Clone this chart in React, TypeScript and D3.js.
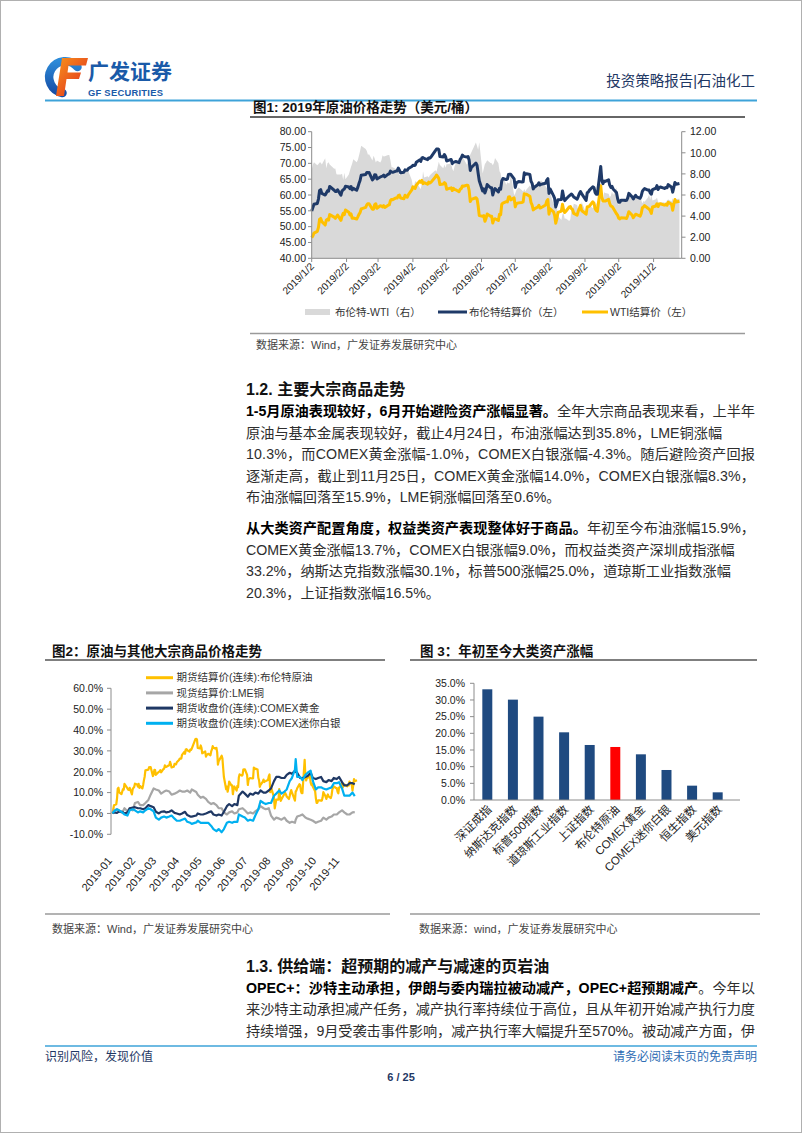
import React from "react";
import * as d3 from "d3";

const W = 802;
const H = 1133;
const FONT = "'Liberation Sans', Arial, 'Noto Sans CJK SC', sans-serif";

// ---------- Figure 1: 2019 crude prices ----------
const f1Dates = [
  "01-02","01-03","01-04","01-07","01-08","01-09","01-10","01-11","01-14","01-15","01-16","01-17","01-18","01-22","01-23","01-24","01-25","01-28","01-29","01-30","01-31",
  "02-01","02-04","02-05","02-06","02-07","02-08","02-11","02-12","02-13","02-14","02-15","02-19","02-20","02-21","02-22","02-25","02-26","02-27","02-28",
  "03-01","03-04","03-05","03-06","03-07","03-08","03-11","03-12","03-13","03-14","03-15","03-18","03-19","03-20","03-21","03-22","03-25","03-26","03-27","03-28","03-29",
  "04-01","04-02","04-03","04-04","04-05","04-08","04-09","04-10","04-11","04-12","04-15","04-16","04-17","04-18","04-22","04-23","04-24","04-25","04-26","04-29","04-30",
  "05-01","05-02","05-03","05-06","05-07","05-08","05-09","05-10","05-13","05-14","05-15","05-16","05-17","05-20","05-21","05-22","05-23","05-24","05-28","05-29","05-30","05-31",
  "06-03","06-04","06-05","06-06","06-07","06-10","06-11","06-12","06-13","06-14","06-17","06-18","06-19","06-20","06-21","06-24","06-25","06-26","06-27","06-28",
  "07-01","07-02","07-03","07-05","07-08","07-09","07-10","07-11","07-12","07-15","07-16","07-17","07-18","07-19","07-22","07-23","07-24","07-25","07-26","07-29","07-30","07-31",
  "08-01","08-02","08-05","08-06","08-07","08-08","08-09","08-12","08-13","08-14","08-15","08-16","08-19","08-20","08-21","08-22","08-23","08-26","08-27","08-28","08-29","08-30",
  "09-03","09-04","09-05","09-06","09-09","09-10","09-11","09-12","09-13","09-16","09-17","09-18","09-19","09-20","09-23","09-24","09-25","09-26","09-27","09-30",
  "10-01","10-02","10-03","10-04","10-07","10-08","10-09","10-10","10-11","10-14","10-15","10-16","10-17","10-18","10-21","10-22","10-23","10-24","10-25","10-28","10-29","10-30","10-31",
  "11-01","11-04","11-05","11-06","11-07","11-08","11-11","11-12","11-13","11-14","11-15","11-18","11-19","11-20","11-21","11-22","11-25"
];
const brentPrice = [
  54.91,55.95,57.06,57.33,58.72,61.44,61.68,60.48,59.99,60.64,61.32,61.18,62.70,61.50,61.14,61.09,61.64,59.93,61.32,61.65,61.89,
  62.75,62.51,61.98,62.69,61.63,62.10,61.51,62.42,63.61,64.57,66.25,66.45,67.08,67.07,67.12,64.76,65.21,66.39,66.31,
  65.07,65.67,65.86,65.99,66.30,65.74,66.58,66.67,67.55,67.23,67.16,67.54,67.61,68.50,67.86,67.03,67.21,67.97,67.83,67.82,68.39,
  69.01,69.37,69.31,69.40,70.34,71.10,70.61,71.73,71.83,71.55,71.18,71.72,71.62,71.97,74.04,74.51,74.57,74.35,72.15,72.04,72.80,
  72.18,70.75,70.85,71.24,69.88,70.37,70.39,70.62,70.23,71.24,71.77,72.62,72.21,71.97,72.18,70.99,67.76,68.69,70.11,69.45,66.87,64.49,
  61.28,61.97,60.63,61.67,63.29,62.29,62.29,59.97,61.31,62.01,60.94,62.14,61.82,64.45,65.20,64.86,65.05,66.49,66.55,66.55,
  65.06,62.40,63.82,64.23,64.11,64.16,67.01,66.52,66.72,66.48,64.35,63.66,61.93,62.47,63.26,63.83,63.18,63.39,63.46,63.71,64.72,65.17,
  60.50,61.89,59.81,58.94,56.23,57.38,58.53,58.57,61.30,59.48,58.23,58.64,59.74,60.03,60.30,59.92,59.34,58.70,59.51,60.49,61.08,60.43,
  58.26,60.70,60.95,61.54,62.59,62.38,60.81,60.22,60.22,69.02,64.55,63.60,64.40,64.28,64.77,63.10,62.39,62.74,61.91,60.78,
  58.89,57.69,57.71,58.37,58.35,58.24,58.32,59.10,60.51,59.35,58.74,59.42,59.91,59.42,58.96,59.70,61.17,61.67,62.02,61.57,61.59,60.61,60.23,
  61.69,62.13,62.96,61.74,62.29,62.51,62.18,62.06,62.37,62.28,63.30,62.44,60.91,62.40,63.97,63.39,63.65
];
const wtiPrice = [
  46.54,47.09,47.96,48.52,49.78,52.36,52.59,51.59,50.51,52.11,52.31,52.07,53.80,53.01,52.62,53.13,53.69,51.99,53.31,54.23,53.79,
  55.26,54.56,53.66,54.01,52.64,52.72,52.41,53.10,53.90,54.41,55.59,56.09,56.92,57.26,57.26,55.48,55.50,56.94,57.22,
  55.80,56.59,56.56,56.22,56.66,56.07,56.79,56.87,58.26,58.61,58.52,59.09,59.03,59.83,59.98,59.04,58.82,59.94,59.41,59.30,60.14,
  61.59,62.58,62.46,62.10,63.08,64.40,64.05,64.61,63.58,63.89,63.40,64.05,63.76,64.00,65.70,66.30,65.89,65.21,63.30,63.50,63.91,
  63.60,61.81,61.94,62.25,61.40,62.12,61.70,61.66,61.04,61.78,62.02,62.87,62.76,63.10,62.99,61.42,57.91,58.63,59.14,58.81,56.59,53.50,
  53.25,53.48,51.68,52.59,53.99,53.26,53.27,51.14,52.28,52.51,51.93,53.90,53.76,57.07,57.43,57.90,57.83,59.38,59.43,58.47,
  59.09,56.25,57.34,57.51,57.66,57.83,60.43,60.20,60.21,59.58,57.62,56.78,55.30,55.63,56.22,56.77,55.88,56.02,56.20,56.87,58.05,58.58,
  53.95,55.66,54.69,53.63,51.09,52.54,54.50,54.93,57.10,55.23,54.47,54.87,56.21,56.34,55.68,55.35,54.17,53.64,54.93,55.78,56.71,55.10,
  53.94,56.26,56.30,56.52,57.85,57.40,55.75,55.09,54.85,62.90,59.34,58.11,58.13,58.09,58.64,57.29,56.49,56.41,55.91,54.07,
  53.62,52.64,52.45,52.81,52.75,52.63,52.59,53.55,54.70,53.59,52.81,53.36,53.93,53.78,53.31,54.16,55.97,56.23,56.66,55.81,55.54,55.06,54.18,
  56.20,56.54,57.23,56.35,57.15,57.24,56.86,56.80,57.12,56.77,57.72,57.05,55.21,57.11,58.58,57.77,58.01
];
const f1LeftTicks = [40, 45, 50, 55, 60, 65, 70, 75, 80];
const f1RightTicks = [0, 2, 4, 6, 8, 10, 12];
const f1DateTicks = ["2019/1/2","2019/2/2","2019/3/2","2019/4/2","2019/5/2","2019/6/2","2019/7/2","2019/8/2","2019/9/2","2019/10/2","2019/11/2"];
const f1Legend = ["布伦特-WTI（右）", "布伦特结算价（左）", "WTI结算价（左）"];

// ---------- Figure 2: % change of commodities ----------
const f2Dates = [
  "01-02","01-04","01-08","01-11","01-15","01-18","01-22","01-25","01-29",
  "02-01","02-05","02-08","02-12","02-15","02-19","02-22","02-26",
  "03-01","03-05","03-08","03-12","03-15","03-19","03-22","03-26","03-29",
  "04-02","04-05","04-09","04-12","04-16","04-18","04-24","04-26","04-30",
  "05-03","05-07","05-10","05-14","05-17","05-21","05-24","05-28","05-31",
  "06-04","06-07","06-11","06-14","06-18","06-20","06-25","06-28",
  "07-02","07-05","07-09","07-12","07-16","07-19","07-23","07-26","07-30",
  "08-02","08-06","08-09","08-13","08-16","08-20","08-23","08-27","08-30",
  "09-03","09-04","09-06","09-10","09-13","09-17","09-20","09-24","09-27",
  "10-01","10-04","10-08","10-11","10-15","10-18","10-22","10-25","10-29",
  "11-01","11-05","11-08","11-12","11-15","11-19","11-22","11-25"
];
const lmeCopper = [
  0.0, 1.5, 2.0, 1.0, 0.3, 2.5, 1.0, 2.5, 1.5,
  5.0, 5.5, 4.0, 4.0, 5.0, 6.5, 9.0, 12.0,
  11.5, 11.0, 9.5, 10.5, 11.0, 10.5, 9.0, 9.5, 10.0,
  11.0, 10.5, 10.5, 11.0, 10.0, 11.5, 10.3, 9.0, 7.5,
  8.0, 7.0, 5.5, 4.5, 5.0, 4.0, 2.5, 2.5, 0.5,
  -0.5, 0.5, 1.0, 0.0, 0.5, 2.0, 2.5, 1.5,
  0.0, 0.5, 0.0, 1.0, 2.0, 3.5, 2.5, 2.0, 2.5,
  -1.0, -3.0, -2.0, -2.5, -3.0, -2.0, -3.5, -4.5, -4.0,
  -4.5, -3.0, -1.5, -1.0, -0.5, -2.0, -2.5, -3.0, -3.5,
  -4.5, -4.0, -3.5, -2.0, -3.0, -2.0, -1.5, -0.5, -0.5,
  0.5, 1.5, 0.5, -0.5, -0.5, 0.5, 0.6
];
const comexGold = [
  0.0, 0.5, 0.3, 1.0, 0.8, 0.0, 0.5, 2.5, 2.8,
  3.0, 2.5, 2.5, 2.0, 2.5, 4.0, 3.5, 3.0,
  0.8, 0.0, 0.8, 1.0, 0.5, 0.8, 1.5, 0.3, 0.0,
  -0.5, 0.0, 0.8, -0.8, -1.5, -1.5, -1.0, 0.0, -0.5,
  -0.5, 0.0, 0.5, 1.0, -0.5, -1.0, -0.5, -1.0, 0.8,
  3.5, 4.5, 3.5, 4.5, 4.0, 8.5, 10.5, 9.5,
  8.0, 9.5, 9.0, 10.0, 9.5, 11.0, 10.0, 10.0, 11.0,
  12.0, 15.5, 17.5, 17.5, 17.0, 17.0, 18.5, 19.5, 19.0,
  20.5, 20.0, 19.5, 17.0, 17.0, 17.5, 18.0, 19.5, 17.0,
  16.5, 17.0, 17.5, 15.5, 15.0, 16.0, 15.5, 17.0, 16.5,
  17.5, 15.0, 13.5, 13.5, 14.5, 14.5, 14.0
];
const comexSilver = [
  0.0, 1.0, 2.0, 1.5, 0.5, -0.5, -1.0, 1.5, 2.0,
  1.5, 0.5, 1.0, 0.5, 1.5, 2.5, 2.0, 1.0,
  -2.0, -3.0, -2.0, -1.5, -2.0, -1.5, -1.0, -2.5, -3.5,
  -3.5, -3.0, -2.5, -4.0, -4.5, -5.0, -4.3, -3.5, -4.5,
  -4.5, -4.5, -4.5, -6.0, -7.5, -8.5, -7.5, -9.0, -7.5,
  -4.5, -4.0, -4.5, -4.0, -4.0, -0.5, -1.5, -2.0,
  -3.5, -3.0, -3.5, -1.0, 2.0, 6.0, 5.0, 4.5, 5.0,
  5.0, 8.5, 9.5, 11.0, 9.5, 10.5, 11.5, 15.5, 17.0,
  21.0, 26.0, 17.5, 17.5, 16.0, 18.5, 19.5, 20.5, 15.5,
  11.5, 12.5, 12.5, 12.0, 11.5, 12.0, 12.5, 14.5, 14.5,
  15.0, 12.0, 8.5, 8.5, 8.5, 10.0, 8.3
];
const f2YTicks = [-10, 0, 10, 20, 30, 40, 50, 60];
const f2MonthTicks = ["2019-01","2019-02","2019-03","2019-04","2019-05","2019-06","2019-07","2019-08","2019-09","2019-10","2019-11"];
const f2Legend = ["期货结算价(连续):布伦特原油", "现货结算价:LME铜", "期货收盘价(连续):COMEX黄金", "期货收盘价(连续):COMEX迷你白银"];
const f2Colors = ["#ffc000", "#a6a6a6", "#1f3864", "#00b0f0"];

// ---------- Figure 3: YTD returns ----------
const f3Assets = ["深证成指","纳斯达克指数","标普500指数","道琼斯工业指数","上证指数","布伦特原油","COMEX黄金","COMEX迷你白银","恒生指数","美元指数"];
const f3Values = [33.2, 30.1, 25.0, 20.3, 16.5, 15.9, 13.7, 9.0, 4.3, 2.3];
const f3YTicks = [0, 5, 10, 15, 20, 25, 30, 35];
const f3Highlight = "布伦特原油";

type Seg = { t: string; b?: boolean };

const para12: Seg[][] = [
  [{ t: "1-5月原油表现较好，6月开始避险资产涨幅显著。", b: true }, { t: "全年大宗商品表现来看，上半年" }],
  [{ t: "原油与基本金属表现较好，截止4月24日，布油涨幅达到35.8%，LME铜涨幅" }],
  [{ t: "10.3%，而COMEX黄金涨幅-1.0%，COMEX白银涨幅-4.3%。随后避险资产回报" }],
  [{ t: "逐渐走高，截止到11月25日，COMEX黄金涨幅14.0%，COMEX白银涨幅8.3%，" }],
  [{ t: "布油涨幅回落至15.9%，LME铜涨幅回落至0.6%。" }],
];
const para12Fit = [true, false, true, true, false];
const para12b: Seg[][] = [
  [{ t: "从大类资产配置角度，权益类资产表现整体好于商品。", b: true }, { t: "年初至今布油涨幅15.9%，" }],
  [{ t: "COMEX黄金涨幅13.7%，COMEX白银涨幅9.0%，而权益类资产深圳成指涨幅" }],
  [{ t: "33.2%，纳斯达克指数涨幅30.1%，标普500涨幅25.0%，道琼斯工业指数涨幅" }],
  [{ t: "20.3%，上证指数涨幅16.5%。" }],
];
const para12bFit = [true, false, false, false];
const para13: Seg[][] = [
  [{ t: "OPEC+：沙特主动承担，伊朗与委内瑞拉被动减产，OPEC+超预期减产", b: true }, { t: "。今年以" }],
  [{ t: "来沙特主动承担减产任务，减产执行率持续位于高位，且从年初开始减产执行力度" }],
  [{ t: "持续增强，9月受袭击事件影响，减产执行率大幅提升至570%。被动减产方面，伊" }],
];

const BODY_X = 246;
const BODY_FIT = 509;
const BODY_SIZE = 14.2;

function TextLine({ y, segs, fit }: { y: number; segs: Seg[]; fit: boolean }) {
  return (
    <text
      x={BODY_X}
      y={y}
      dy="0.36em"
      fontSize={BODY_SIZE}
      fontFamily={FONT}
      {...(fit ? { textLength: BODY_FIT, lengthAdjust: "spacing" } : {})}
    >
      {segs.map((s, i) => (
        <tspan key={i} fontWeight={s.b ? "bold" : "normal"} fill={s.b ? "#000" : "#2e2e2e"}>
          {s.t}
        </tspan>
      ))}
    </text>
  );
}

export default function App() {
  const parse = d3.timeParse("%Y-%m-%d");
  const d1 = f1Dates.map((s) => parse("2019-" + s) as Date);
  const d2 = f2Dates.map((s) => parse("2019-" + s) as Date);

  // Figure 1 scales
  const x1 = d3.scaleTime().domain([new Date(2019, 0, 2), new Date(2019, 10, 27)]).range([311.7, 681.7]);
  const yL = d3.scaleLinear().domain([40, 80]).range([258.3, 131.7]);
  const yR = d3.scaleLinear().domain([0, 12]).range([258.3, 131.7]);
  const spread = brentPrice.map((b, i) => b - wtiPrice[i]);
  const spreadArea = d3.area<number>().x((_, i) => x1(d1[i])).y0(yR(0)).y1((d) => yR(d))(spread) || "";
  const priceLine = d3.line<number>().x((_, i) => x1(d1[i])).y((d) => yL(d));
  const parseTick = d3.timeParse("%Y/%m/%d");

  // Figure 2 scales
  const x2 = d3.scaleTime().domain([d1[0], d1[d1.length - 1]]).range([112.5, 357]);
  const y2 = d3.scaleLinear().domain([-10, 60]).range([834.3, 688.3]);
  const brentPct = brentPrice.map((v) => (v / brentPrice[0] - 1) * 100);
  const brentPctLine = d3.line<number>().x((_, i) => x2(d1[i])).y((d) => y2(d));
  const otherLine = d3.line<number>().x((_, i) => x2(d2[i])).y((d) => y2(d));
  const f2Paths = [brentPctLine(brentPct), otherLine(lmeCopper), otherLine(comexGold), otherLine(comexSilver)];
  const parseMonth = d3.timeParse("%Y-%m");

  // Figure 3 scales
  const x3 = d3.scaleBand<string>().domain(f3Assets).range([474, 731]).paddingInner(0.61).paddingOuter(0.325);
  const y3 = d3.scaleLinear().domain([0, 35]).range([800, 683.3]);

  const axisColor = "#8c8c8c";
  const tickFont = 10.5;

  return (
    <svg
      width={W}
      height={H}
      viewBox={`0 0 ${W} ${H}`}
      style={{ position: "absolute", left: 0, top: 0, background: "#fff" }}
      fontFamily={FONT}
    >
      <rect x={0} y={0} width={W} height={H} fill="#fff" />
      <rect x={0.5} y={0.5} width={W - 1} height={H - 1} fill="none" stroke="#b0b0b0" strokeWidth={1} />

      {/* ===== Header ===== */}
      <g>
        <defs>
          <linearGradient id="gfF" x1="0" y1="0" x2="1" y2="1">
            <stop offset="0" stopColor="#f7941d" />
            <stop offset="1" stopColor="#e0261b" />
          </linearGradient>
          <linearGradient id="gfG" x1="0" y1="0" x2="0" y2="1">
            <stop offset="0" stopColor="#2c8ad8" />
            <stop offset="1" stopColor="#174ea6" />
          </linearGradient>
        </defs>
        <path d="M77.5,67 A16,16 0 1 0 62.5,93" fill="none" stroke="url(#gfG)" strokeWidth={8.5} strokeLinecap="round" />
        <path d="M62,58 L88,58 L86,65.5 L68.5,65.5 L67.5,72.5 L81,72.5 L79,79 L66.5,79 L64,96 L56,96 Z" fill="url(#gfF)" />
        <text x={88} y={79} fontSize={21} fontWeight="bold" fill="#1a5aa8" fontFamily="'Noto Sans CJK SC', sans-serif">
          广发证券
        </text>
        <text x={88} y={95.5} fontSize={9.4} fontWeight="bold" fill="#1a5aa8" letterSpacing={0.25}>
          GF SECURITIES
        </text>
        <text x={755} y={86} fontSize={14.5} textAnchor="end" fill="#1f3864">
          投资策略报告|石油化工
        </text>
        <line x1={45} x2={757} y1={100.5} y2={100.5} stroke="#3ea3d9" strokeWidth={2} />
      </g>

      {/* ===== Figure 1 ===== */}
      <g>
        <text x={253} y={107} dy="0.36em" fontSize={13.5} fontWeight="bold" fill="#111">
          图1: 2019年原油价格走势（美元/桶）
        </text>
        <line x1={250} x2={745} y1={117} y2={117} stroke="#333" strokeWidth={1.5} />

        <path d={spreadArea} fill="#d9d9d9" />
        <path d={priceLine(wtiPrice) || ""} fill="none" stroke="#ffc000" strokeWidth={3} strokeLinejoin="round" />
        <path d={priceLine(brentPrice) || ""} fill="none" stroke="#1f3a68" strokeWidth={3} strokeLinejoin="round" />

        {/* left axis */}
        <line x1={311.7} x2={311.7} y1={yL(80)} y2={yL(40)} stroke={axisColor} />
        {f1LeftTicks.map((t) => (
          <g key={"l" + t}>
            <line x1={308} x2={311.7} y1={yL(t)} y2={yL(t)} stroke={axisColor} />
            <text x={306} y={yL(t)} dy="0.36em" textAnchor="end" fontSize={tickFont} fill="#222">
              {t.toFixed(2)}
            </text>
          </g>
        ))}
        {/* right axis */}
        <line x1={681.7} x2={681.7} y1={yR(12)} y2={yR(0)} stroke={axisColor} />
        {f1RightTicks.map((t) => (
          <g key={"r" + t}>
            <line x1={681.7} x2={685.5} y1={yR(t)} y2={yR(t)} stroke={axisColor} />
            <text x={690} y={yR(t)} dy="0.36em" textAnchor="start" fontSize={tickFont} fill="#222">
              {t.toFixed(2)}
            </text>
          </g>
        ))}
        {/* bottom axis */}
        <line x1={311.7} x2={681.7} y1={258.3} y2={258.3} stroke={axisColor} />
        {f1DateTicks.map((s) => {
          const x = x1(parseTick(s) as Date);
          return (
            <g key={s}>
              <line x1={x} x2={x} y1={258.3} y2={262} stroke={axisColor} />
              <text transform={`translate(${x + 3},${267}) rotate(-45)`} textAnchor="end" fontSize={10.2} fill="#222">
                {s}
              </text>
            </g>
          );
        })}
        {/* legend */}
        <line x1={305} x2={330} y1={312} y2={312} stroke="#d9d9d9" strokeWidth={6} />
        <text x={335} y={312} dy="0.36em" fontSize={10.5} fill="#333">{f1Legend[0]}</text>
        <line x1={438} x2={467} y1={312} y2={312} stroke="#1f3a68" strokeWidth={3} />
        <text x={469} y={312} dy="0.36em" fontSize={10.5} fill="#333">{f1Legend[1]}</text>
        <line x1={582} x2={608} y1={312} y2={312} stroke="#ffc000" strokeWidth={3} />
        <text x={610} y={312} dy="0.36em" fontSize={10.5} fill="#333">{f1Legend[2]}</text>

        <line x1={250} x2={745} y1={333.5} y2={333.5} stroke="#9a9a9a" strokeWidth={1.5} />
        <text x={256} y={345} dy="0.36em" fontSize={11} fill="#444">
          数据来源：Wind，广发证券发展研究中心
        </text>
      </g>

      {/* ===== Section 1.2 ===== */}
      <text x={BODY_X} y={389} dy="0.36em" fontSize={16} fontWeight="bold" fill="#111">
        1.2. 主要大宗商品走势
      </text>
      {para12.map((segs, i) => (
        <TextLine key={"p1" + i} y={411 + i * 21.5} segs={segs} fit={para12Fit[i]} />
      ))}
      {para12b.map((segs, i) => (
        <TextLine key={"p2" + i} y={528 + i * 21.5} segs={segs} fit={para12bFit[i]} />
      ))}

      {/* ===== Figure 2 ===== */}
      <g>
        <text x={52} y={651} dy="0.36em" fontSize={13.5} fontWeight="bold" fill="#111">
          图2：原油与其他大宗商品价格走势
        </text>
        <line x1={45} x2={385} y1={660} y2={660} stroke="#555" strokeWidth={1.5} />

        {f2Legend.map((name, i) => (
          <g key={name}>
            <line x1={146} x2={173} y1={677.7 + i * 15.2} y2={677.7 + i * 15.2} stroke={f2Colors[i]} strokeWidth={3} />
            <text x={176.5} y={677.7 + i * 15.2} dy="0.36em" fontSize={10.5} fill="#333">{name}</text>
          </g>
        ))}

        {f2Paths.map((d, i) => (
          <path key={"f2" + i} d={d || ""} fill="none" stroke={f2Colors[i]} strokeWidth={2.2} strokeLinejoin="round" />
        ))}

        <line x1={111} x2={111} y1={y2(60)} y2={y2(-10)} stroke={axisColor} />
        {f2YTicks.map((t) => (
          <g key={"y2" + t}>
            <line x1={107} x2={111} y1={y2(t)} y2={y2(t)} stroke={axisColor} />
            <text x={103} y={y2(t)} dy="0.36em" textAnchor="end" fontSize={tickFont} fill="#222">
              {t.toFixed(1) + "%"}
            </text>
          </g>
        ))}
        {f2MonthTicks.map((m) => {
          const x = x2(parseMonth(m) as Date);
          return (
            <text key={m} transform={`translate(${x + 1},${861}) rotate(-50)`} textAnchor="end" fontSize={11} fill="#222">
              {m}
            </text>
          );
        })}

        <line x1={45} x2={390} y1={914} y2={914} stroke="#9a9a9a" strokeWidth={1.5} />
        <text x={52} y={929} dy="0.36em" fontSize={11} fill="#444">
          数据来源：Wind，广发证券发展研究中心
        </text>
      </g>

      {/* ===== Figure 3 ===== */}
      <g>
        <text x={420} y={651} dy="0.36em" fontSize={13.5} fontWeight="bold" fill="#111">
          图 3：年初至今大类资产涨幅
        </text>
        <line x1={410} x2={757} y1={660} y2={660} stroke="#555" strokeWidth={1.5} />

        {f3Assets.map((a, i) => (
          <rect
            key={a}
            x={x3(a) as number}
            y={y3(f3Values[i])}
            width={x3.bandwidth()}
            height={y3(0) - y3(f3Values[i])}
            fill={a === f3Highlight ? "#ff0000" : "#1f4a80"}
          />
        ))}
        <line x1={474} x2={474} y1={y3(35)} y2={y3(0)} stroke={axisColor} />
        <line x1={474} x2={740} y1={y3(0)} y2={y3(0)} stroke={axisColor} />
        {f3YTicks.map((t) => (
          <g key={"y3" + t}>
            <line x1={470} x2={474} y1={y3(t)} y2={y3(t)} stroke={axisColor} />
            <text x={465} y={y3(t)} dy="0.36em" textAnchor="end" fontSize={tickFont} fill="#222">
              {t.toFixed(1) + "%"}
            </text>
          </g>
        ))}
        {f3Assets.map((a) => {
          const cx = (x3(a) as number) + x3.bandwidth() / 2;
          return (
            <text key={"lab" + a} transform={`translate(${cx + 5},${810}) rotate(-45)`} textAnchor="end" fontSize={11.5} fill="#222">
              {a}
            </text>
          );
        })}

        <line x1={410} x2={760} y1={914} y2={914} stroke="#9a9a9a" strokeWidth={1.5} />
        <text x={419} y={929} dy="0.36em" fontSize={11} fill="#444">
          数据来源：wind，广发证券发展研究中心
        </text>
      </g>

      {/* ===== Section 1.3 ===== */}
      <text x={BODY_X} y={966} dy="0.36em" fontSize={16} fontWeight="bold" fill="#111">
        1.3. 供给端：超预期的减产与减速的页岩油
      </text>
      {para13.map((segs, i) => (
        <TextLine key={"p3" + i} y={987.5 + i * 21.5} segs={segs} fit={true} />
      ))}

      {/* ===== Footer ===== */}
      <line x1={45} x2={757} y1={1046} y2={1046} stroke="#3ea3d9" strokeWidth={1.5} />
      <text x={45} y={1057} dy="0.36em" fontSize={12} fill="#1f3864">识别风险，发现价值</text>
      <text x={757} y={1057} dy="0.36em" fontSize={12} textAnchor="end" fill="#2e6db4">请务必阅读末页的免责声明</text>
      <text x={401} y={1077} dy="0.36em" fontSize={11} fontWeight="bold" textAnchor="middle" fill="#1f3864">6 / 25</text>
    </svg>
  );
}
